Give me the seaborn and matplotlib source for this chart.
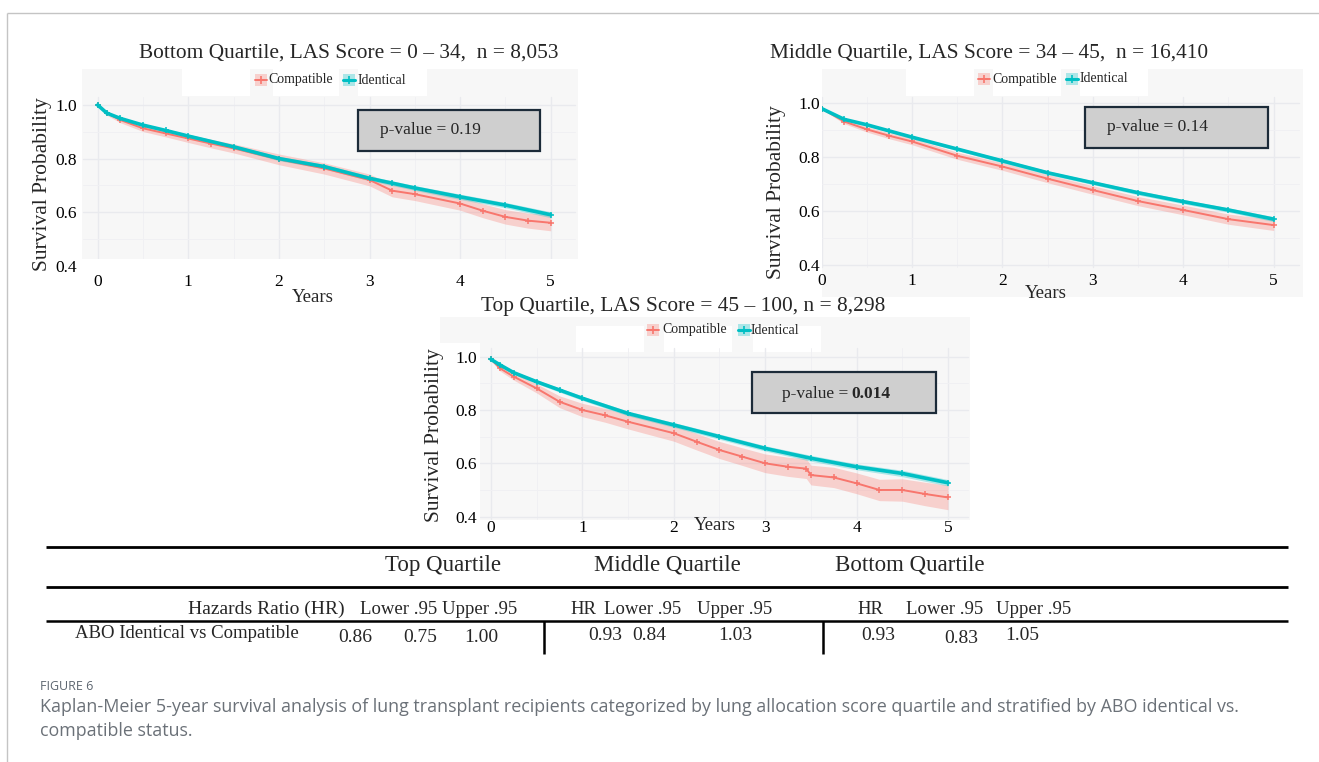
import matplotlib
matplotlib.use("Agg")
import matplotlib.pyplot as plt
import pandas as pd
import seaborn as sns
from matplotlib.lines import Line2D
from matplotlib.patches import Rectangle
from matplotlib.ticker import MultipleLocator

sns.set_theme(style="white")
plt.rcParams["font.family"] = ["Liberation Serif", "DejaVu Serif"]

# ---------------- Kaplan-Meier estimates (years, survival, 95% band) ----------------
# Bottom quartile, LAS 0-34
bot_comp_t = [0, 0.1, 0.25, 0.5, 0.75, 1, 1.25, 1.5, 2, 2.5, 3, 3.25, 3.5, 4, 4.25, 4.5, 4.75, 5]
bot_comp_s = [1.0, 0.97, 0.944, 0.913, 0.894, 0.875, 0.856, 0.838, 0.797, 0.763, 0.72, 0.68, 0.667, 0.632, 0.605, 0.582, 0.568, 0.56]
bot_comp_lo = [1.0, 0.962, 0.934, 0.901, 0.881, 0.86, 0.84, 0.821, 0.777, 0.742, 0.698, 0.657, 0.643, 0.607, 0.579, 0.555, 0.54, 0.53]
bot_comp_hi = [1.0, 0.978, 0.954, 0.925, 0.907, 0.89, 0.872, 0.855, 0.817, 0.784, 0.742, 0.703, 0.691, 0.657, 0.631, 0.609, 0.596, 0.59]
bot_iden_t = [0, 0.1, 0.25, 0.5, 0.75, 1, 1.5, 2, 2.5, 3, 3.25, 3.5, 4, 4.5, 5]
bot_iden_s = [1.0, 0.97, 0.95, 0.925, 0.905, 0.884, 0.844, 0.80, 0.77, 0.726, 0.708, 0.69, 0.657, 0.626, 0.59]
bot_iden_lo = [1.0, 0.966, 0.945, 0.919, 0.899, 0.877, 0.837, 0.792, 0.762, 0.717, 0.699, 0.681, 0.647, 0.616, 0.579]
bot_iden_hi = [1.0, 0.974, 0.955, 0.931, 0.911, 0.891, 0.851, 0.808, 0.778, 0.735, 0.717, 0.699, 0.667, 0.636, 0.601]

# Middle quartile, LAS 34-45
mid_t = [0, 0.25, 0.5, 0.75, 1, 1.5, 2, 2.5, 3, 3.5, 4, 4.5, 5]
mid_comp_s = [0.98, 0.932, 0.903, 0.879, 0.858, 0.805, 0.765, 0.72, 0.678, 0.637, 0.604, 0.57, 0.548]
mid_comp_lo = [0.978, 0.924, 0.893, 0.868, 0.846, 0.792, 0.751, 0.705, 0.662, 0.62, 0.586, 0.551, 0.528]
mid_comp_hi = [0.982, 0.94, 0.913, 0.89, 0.87, 0.818, 0.779, 0.735, 0.694, 0.654, 0.622, 0.589, 0.568]
mid_iden_s = [0.98, 0.94, 0.92, 0.897, 0.874, 0.83, 0.786, 0.742, 0.705, 0.668, 0.635, 0.604, 0.57]
mid_iden_lo = [0.978, 0.936, 0.915, 0.892, 0.868, 0.824, 0.779, 0.735, 0.698, 0.66, 0.627, 0.596, 0.561]
mid_iden_hi = [0.982, 0.944, 0.925, 0.902, 0.88, 0.836, 0.793, 0.749, 0.712, 0.676, 0.643, 0.612, 0.579]

# Top quartile, LAS 45-100
top_comp_t = [0, 0.1, 0.25, 0.5, 0.75, 1, 1.25, 1.5, 2, 2.25, 2.5, 2.75, 3, 3.25, 3.45, 3.5, 3.75, 4, 4.25, 4.5, 4.75, 5]
top_comp_s = [0.99, 0.956, 0.925, 0.881, 0.831, 0.80, 0.78, 0.756, 0.713, 0.681, 0.65, 0.625, 0.60, 0.587, 0.58, 0.556, 0.547, 0.525, 0.50, 0.50, 0.485, 0.472]
top_comp_lo = [0.988, 0.946, 0.912, 0.864, 0.809, 0.775, 0.754, 0.729, 0.683, 0.65, 0.618, 0.592, 0.565, 0.551, 0.543, 0.519, 0.509, 0.486, 0.46, 0.458, 0.441, 0.426]
top_comp_hi = [0.992, 0.966, 0.938, 0.898, 0.853, 0.825, 0.806, 0.783, 0.743, 0.712, 0.682, 0.658, 0.635, 0.623, 0.617, 0.593, 0.585, 0.564, 0.54, 0.542, 0.529, 0.518]
top_iden_t = [0, 0.1, 0.25, 0.5, 0.75, 1, 1.5, 2, 2.5, 3, 3.5, 4, 4.5, 5]
top_iden_s = [0.99, 0.969, 0.94, 0.906, 0.875, 0.844, 0.787, 0.744, 0.70, 0.656, 0.619, 0.587, 0.562, 0.527]
top_iden_lo = [0.988, 0.964, 0.934, 0.899, 0.867, 0.836, 0.778, 0.735, 0.69, 0.646, 0.608, 0.576, 0.55, 0.515]
top_iden_hi = [0.992, 0.974, 0.946, 0.913, 0.883, 0.852, 0.796, 0.753, 0.71, 0.666, 0.63, 0.598, 0.574, 0.539]

# ---------------- panel text ----------------
titles = ["Bottom Quartile, LAS Score = 0 \u2013 34,  n = 8,053",
          "Middle Quartile, LAS Score = 34 \u2013 45,  n = 16,410",
          "Top Quartile, LAS Score = 45 \u2013 100, n = 8,298"]
p_values = ["0.19", "0.14", "0.014"]
groups = ["Compatible", "Identical"]
x_ticks = [0, 1, 2, 3, 4, 5]
y_ticks = [0.4, 0.6, 0.8, 1.0]

# ---------------- hazard ratio table ----------------
table_quartiles = ["Top Quartile", "Middle Quartile", "Bottom Quartile"]
table_row_label = "ABO Identical vs Compatible"
hr_values = [0.86, 0.93, 0.93]
hr_lower = [0.75, 0.84, 0.83]
hr_upper = [1.00, 1.03, 1.05]

caption_head = "FIGURE 6"
caption_text = ["Kaplan-Meier 5-year survival analysis of lung transplant recipients categorized by lung allocation score quartile and stratified by ABO identical vs.",
                "compatible status."]

RED = "#F8766D"
TEAL = "#00BFC4"
PANEL_BG = "#f7f7f7"
GRID = "#e9eaee"
GRID_MINOR = "#f0f0f3"

W, H = 1319, 762
fig = plt.figure(figsize=(W / 100, H / 100), dpi=100)
fig.patch.set_facecolor("white")


def fx(x):
    return x / W


def fy(y):
    return 1 - y / H


def rect(x0, y0, x1, y1, z=-2, **kw):
    r = Rectangle((fx(x0), fy(y1)), (x1 - x0) / W, (y1 - y0) / H,
                  transform=fig.transFigure, zorder=z, **kw)
    fig.add_artist(r)
    return r


def hline(x0, x1, y, lw, color="black"):
    fig.add_artist(Line2D([fx(x0), fx(x1)], [fy(y), fy(y)], lw=lw, color=color,
                          transform=fig.transFigure, solid_capstyle="butt"))


def vline(x, y0, y1, lw, color="black"):
    fig.add_artist(Line2D([fx(x), fx(x)], [fy(y0), fy(y1)], lw=lw, color=color,
                          transform=fig.transFigure, solid_capstyle="butt"))


def legend_key(x, y, color, lw):
    rect(x - 6, y - 6, x + 6, y + 6, z=-0.5, facecolor=color, alpha=0.3, lw=0)
    fig.add_artist(Line2D([fx(x - 6), fx(x), fx(x + 6)], [fy(y)] * 3, color=color, lw=lw,
                          marker="+", markevery=[1], markersize=6, mew=1.2,
                          transform=fig.transFigure))


def km_panel(box, xlim, ylim, clip_rect, comp, iden, xpad, ypad):
    x0, y0, x1, y1 = box
    ax = fig.add_axes([fx(x0), fy(y1), (x1 - x0) / W, (y1 - y0) / H])
    ax.set_facecolor("none")
    for (t, s, lo, hi), color in [(comp, RED), (iden, TEAL)]:
        ax.fill_between(t, lo, hi, color=color, alpha=0.3, lw=0)
    for (t, s, lo, hi), name, color, lw in [(comp, groups[0], RED, 1.4), (iden, groups[1], TEAL, 2.6)]:
        df = pd.DataFrame({"Years": t, "Survival": s, "ABO": name})
        sns.lineplot(data=df, x="Years", y="Survival", color=color, lw=lw, ax=ax,
                     marker="+", markersize=5, markeredgewidth=1.1, markeredgecolor=color,
                     estimator=None, sort=False, legend=False)
    ax.set_xlim(*xlim)
    ax.set_ylim(*ylim)
    ax.set_xticks(x_ticks)
    ax.set_yticks(y_ticks)
    ax.set_xticklabels([str(v) for v in x_ticks])
    ax.set_yticklabels([f"{v:.1f}" for v in y_ticks])
    ax.xaxis.set_minor_locator(MultipleLocator(0.5))
    ax.yaxis.set_minor_locator(MultipleLocator(0.1))
    ax.grid(which="major", color=GRID, lw=1.0)
    ax.grid(which="minor", color=GRID_MINOR, lw=0.7)
    ax.set_axisbelow(True)
    ax.tick_params(which="both", length=0, labelsize=12.5, colors="black")
    ax.tick_params(axis="x", pad=xpad)
    ax.tick_params(axis="y", pad=ypad)
    ax.set_xlabel("")
    ax.set_ylabel("")
    for sp in ax.spines.values():
        sp.set_visible(False)
    ax.xaxis.set_clip_path(clip_rect)
    ax.yaxis.set_clip_path(clip_rect)
    return ax


# outer frame of the figure block
hline(7, W, 12.7, 1.0, color="#c4c4c4")
vline(7, 12.7, H, 1.0, color="#c4c4c4")

# ---- panel 1: bottom quartile ----
rect(82, 69, 578, 259, facecolor=PANEL_BG, lw=0)
clip1 = rect(82, 69, 578, 259, z=-3, facecolor="none", lw=0)
for a, b in [(182, 250), (273, 339), (358, 427)]:
    rect(a, 69, b, 96, z=-1, facecolor="white", lw=0)
km_panel((83, 97, 575, 266.8), (-0.162, 5.268), (0.3955, 1.03), clip1,
         (bot_comp_t, bot_comp_s, bot_comp_lo, bot_comp_hi),
         (bot_iden_t, bot_iden_s, bot_iden_lo, bot_iden_hi), xpad=5.5, ypad=4.5)

# ---- panel 2: middle quartile ----
rect(822, 69, 1303, 297, facecolor=PANEL_BG, lw=0)
clip2 = rect(822, 69, 1303, 297, z=-3, facecolor="none", lw=0)
for a, b in [(906, 974), (993, 1061), (1080, 1148)]:
    rect(a, 69, b, 96, z=-1, facecolor="white", lw=0)
km_panel((821.7, 97, 1299, 267), (0, 5.28), (0.3926, 1.023), clip2,
         (mid_t, mid_comp_s, mid_comp_lo, mid_comp_hi),
         (mid_t, mid_iden_s, mid_iden_lo, mid_iden_hi), xpad=4.0, ypad=1.0)

# ---- panel 3: top quartile ----
rect(440, 317, 970, 343, facecolor=PANEL_BG, lw=0)
rect(480, 343, 970, 520, facecolor=PANEL_BG, lw=0)
clip3 = rect(480, 317, 970, 520, z=-3, facecolor="none", lw=0)
for a, b in [(576, 644), (664, 732), (753, 821)]:
    rect(a, 326, b, 352, z=-1, facecolor="white", lw=0)
km_panel((480, 348, 968, 519.3), (-0.12, 5.219), (0.39, 1.0326), clip3,
         (top_comp_t, top_comp_s, top_comp_lo, top_comp_hi),
         (top_iden_t, top_iden_s, top_iden_lo, top_iden_hi), xpad=0.5, ypad=2.4)

# titles, axis labels, legends
TITLE_FS = 15.4
for (cx, cy), txt in zip([(348.5, 53), (989, 53), (683, 307)], titles):
    fig.text(fx(cx), fy(cy), txt, ha="center", va="center", fontsize=TITLE_FS)
for cx, cy in [(43, 184), (777, 192.5), (435, 435)]:
    fig.text(fx(cx), fy(cy), "Survival Probability", rotation=90, ha="center", va="center", fontsize=15.5)
for cx, cy in [(313, 298), (1046, 293), (715, 526)]:
    fig.text(fx(cx), fy(cy), "Years", ha="center", va="center", fontsize=13.5)

LEG_FS = 10
for kx_r, tx_r, kx_t, tx_t, ly in [(261, 268, 349, 358, 80), (984, 992, 1072, 1080, 79), (653, 662, 744, 751, 330)]:
    legend_key(kx_r, ly, RED, 1.4)
    legend_key(kx_t, ly, TEAL, 2.2)
    fig.text(fx(tx_r), fy(ly), groups[0], ha="left", va="center", fontsize=LEG_FS)
    fig.text(fx(tx_t), fy(ly), groups[1], ha="left", va="center", fontsize=LEG_FS)

# p-value boxes
PBOX_FACE = "#cfcfcf"
PBOX_EDGE = "#1c2b39"
rect(358, 110, 540, 151, z=2, facecolor=PBOX_FACE, edgecolor=PBOX_EDGE, lw=1.6)
fig.text(fx(380), fy(130), f"p-value = {p_values[0]}", ha="left", va="center", fontsize=12.5, zorder=3)
rect(1085, 107, 1268, 148, z=2, facecolor=PBOX_FACE, edgecolor=PBOX_EDGE, lw=1.6)
fig.text(fx(1107), fy(127), f"p-value = {p_values[1]}", ha="left", va="center", fontsize=12.5, zorder=3)
rect(752, 372, 936, 413, z=2, facecolor=PBOX_FACE, edgecolor=PBOX_EDGE, lw=1.6)
fig.text(fx(848.5), fy(394), "p-value =", ha="right", va="center", fontsize=12.5, zorder=3)
fig.text(fx(851.5), fy(394), p_values[2], ha="left", va="center", fontsize=12.5, fontweight="bold", zorder=3)

# ---- hazard ratio table ----
hline(46, 1288, 546.7, 2.0)
hline(46, 1288, 587.3, 2.0)
hline(46, 1288, 620.7, 1.8)
vline(544, 621, 654, 1.8)
vline(822.7, 621, 654, 1.8)

for cx, q in zip([442.7, 667, 909.5], table_quartiles):
    fig.text(fx(cx), fy(565), q, ha="center", va="center", fontsize=16.5)

sub_fs = 13.5
fig.text(fx(345), fy(609), "Hazards Ratio (HR)", ha="right", va="center", fontsize=14)
for cx, lab in [(398.3, "Lower .95"), (480, "Upper .95"),
                (583, "HR"), (642.3, "Lower .95"), (734.2, "Upper .95"),
                (870, "HR"), (944.3, "Lower .95"), (1033.3, "Upper .95")]:
    fig.text(fx(cx), fy(609), lab, ha="center", va="center", fontsize=sub_fs)

fig.text(fx(75), fy(634), table_row_label, ha="left", va="center", fontsize=13.5)
value_pos = [[(355, 638), (420, 638), (481.7, 637)],
             [(605, 635.5), (649, 635.5), (735, 635.5)],
             [(878.3, 635.5), (961, 638.5), (1022.5, 636)]]
for pos, vals in zip(value_pos, zip(hr_values, hr_lower, hr_upper)):
    for (cx, cy), v in zip(pos, vals):
        fig.text(fx(cx), fy(cy), f"{v:.2f}", ha="center", va="center", fontsize=14)

# ---- caption ----
fig.text(fx(40), fy(686), caption_head, ha="left", va="center", fontsize=9,
         family=["Open Sans", "DejaVu Sans"], color="#5d6670")
for i, line in enumerate(caption_text):
    fig.text(fx(40), fy(707 + 24 * i), line, ha="left", va="center", fontsize=12.9,
             family=["Open Sans", "DejaVu Sans"], color="#6b7178")

fig.savefig("out.png", dpi=100, facecolor="white")
